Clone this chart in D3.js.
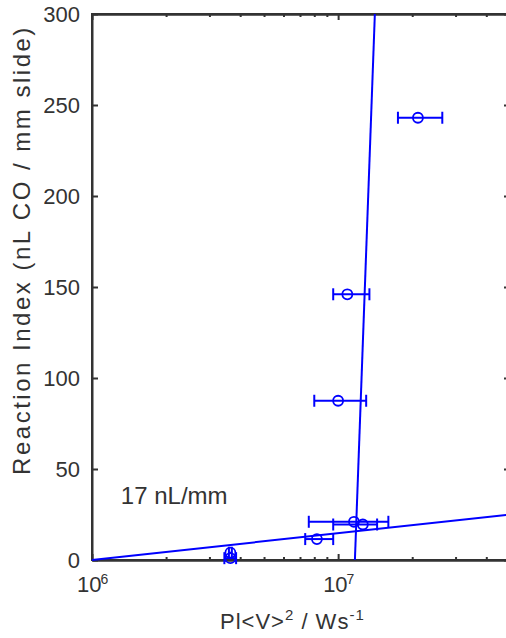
<!DOCTYPE html>
<html>
<head>
<meta charset="utf-8">
<script src="https://cdn.jsdelivr.net/npm/d3@7"></script>
<style>
  body { margin: 0; background: #fff; }
  svg { display: block; font-family: "Liberation Sans", Arial, sans-serif; }
  .axis path, .axis line { stroke: #333; stroke-width: 2; }
  .axis text { fill: #333; font-size: 22px; }
</style>
</head>
<body>
<div id="chart"></div>
<script>
// ************ data ************
const pointX = [3.65e6, 3.65e6, 8.2e6, 1.16e7, 1.26e7, 1.0e7, 1.09e7, 2.11e7]
const pointY = [4, 1, 11.5, 21, 19.5, 87.5, 146, 243]
const errLow = [3.6e6, 3.45e6, 7.35e6, 7.6e6, 9.55e6, 8.0e6, 9.55e6, 1.75e7]
const errHigh = [3.7e6, 3.85e6, 9.55e6, 1.6e7, 1.44e7, 1.3e7, 1.34e7, 2.65e7]

// two fitted lines, end points
const shallowFit = [[1e6, 0], [4.9e7, 24.9]]
const steepFit = [[1.17e7, 0], [1.41e7, 300]]

const yTicks = [0, 50, 100, 150, 200, 250, 300]
const xMajor = [1e6, 1e7]
const xMajorExp = ["6", "7"]
const xMinor = [2e6, 3e6, 4e6, 5e6, 6e6, 7e6, 8e6, 9e6, 2e7, 3e7, 4e7]

// ************ layout ************
const W = 506
const H = 638
const margin = { top: 14, left: 92 }
const plotRight = 508
const plotBottom = 560
const blue = "#0000ff"
const ink = "#333"

const svg = d3.select("#chart")
  .append("svg")
  .attr("width", W)
  .attr("height", H)

const x = d3.scaleLog()
  .domain([1e6, 4.9e7])
  .range([margin.left, plotRight])

const y = d3.scaleLinear()
  .domain([0, 300])
  .range([plotBottom, margin.top])

// frame
svg.append("rect")
  .attr("x", margin.left)
  .attr("y", margin.top)
  .attr("width", plotRight - margin.left)
  .attr("height", plotBottom - margin.top)
  .attr("fill", "none")
  .attr("stroke", ink)
  .attr("stroke-width", 2)

// bottom axis, ticks pointing in
svg.append("g")
  .attr("class", "axis")
  .attr("transform", "translate(0," + plotBottom + ")")
  .call(d3.axisBottom(x).tickValues(xMinor).tickSizeInner(-3).tickSizeOuter(0).tickFormat(""))
svg.append("g")
  .attr("class", "axis")
  .attr("transform", "translate(0," + plotBottom + ")")
  .call(d3.axisBottom(x).tickValues(xMajor).tickSizeInner(-6).tickSizeOuter(0).tickFormat(""))

// top axis
svg.append("g")
  .attr("class", "axis")
  .attr("transform", "translate(0," + margin.top + ")")
  .call(d3.axisTop(x).tickValues(xMinor).tickSizeInner(-3).tickSizeOuter(0).tickFormat(""))
svg.append("g")
  .attr("class", "axis")
  .attr("transform", "translate(0," + margin.top + ")")
  .call(d3.axisTop(x).tickValues(xMajor).tickSizeInner(-6).tickSizeOuter(0).tickFormat(""))

// x tick labels as powers of ten
const xLabels = svg.selectAll(".xlab")
  .data(xMajor)
  .enter()
  .append("text")
  .attr("class", "xlab")
  .attr("x", d => x(d) - 15)
  .attr("y", 592)
  .style("font-size", "22px")
  .style("fill", ink)
xLabels.append("tspan").text("10")
xLabels.append("tspan")
  .attr("dx", -1)
  .attr("dy", -8)
  .style("font-size", "14px")
  .text((d, i) => xMajorExp[i])

// left axis
svg.append("g")
  .attr("class", "axis")
  .attr("transform", "translate(" + margin.left + ",0)")
  .call(d3.axisLeft(y).tickValues(yTicks).tickSizeInner(-6).tickSizeOuter(0).tickPadding(12))

// right axis
svg.append("g")
  .attr("class", "axis")
  .attr("transform", "translate(" + plotRight + ",0)")
  .call(d3.axisRight(y).tickValues(yTicks).tickSizeInner(-4).tickSizeOuter(0).tickFormat(""))

// fitted lines
const line = d3.line()
  .x(d => x(d[0]))
  .y(d => y(d[1]))

svg.selectAll(".fit")
  .data([shallowFit, steepFit])
  .enter()
  .append("path")
  .attr("class", "fit")
  .attr("d", line)
  .attr("fill", "none")
  .attr("stroke", blue)
  .attr("stroke-width", 2)

// error bars
const idx = d3.range(pointX.length)
const bars = svg.selectAll(".err")
  .data(idx)
  .enter()
  .append("g")
  .attr("class", "err")
  .attr("stroke", blue)
  .attr("stroke-width", 2)

bars.append("line")
  .attr("x1", i => x(errLow[i]))
  .attr("x2", i => x(errHigh[i]))
  .attr("y1", i => y(pointY[i]))
  .attr("y2", i => y(pointY[i]))
bars.append("line")
  .attr("x1", i => x(errLow[i]))
  .attr("x2", i => x(errLow[i]))
  .attr("y1", i => y(pointY[i]) - 6)
  .attr("y2", i => y(pointY[i]) + 6)
bars.append("line")
  .attr("x1", i => x(errHigh[i]))
  .attr("x2", i => x(errHigh[i]))
  .attr("y1", i => y(pointY[i]) - 6)
  .attr("y2", i => y(pointY[i]) + 6)

// points
svg.selectAll(".dot")
  .data(idx)
  .enter()
  .append("circle")
  .attr("class", "dot")
  .attr("cx", i => x(pointX[i]))
  .attr("cy", i => y(pointY[i]))
  .attr("r", 5)
  .attr("fill", "none")
  .attr("stroke", blue)
  .attr("stroke-width", 1.8)

// annotation
svg.append("text")
  .attr("x", x(1.31e6))
  .attr("y", y(31))
  .style("font-size", "24px")
  .style("fill", ink)
  .text("17 nL/mm")

// axis titles
svg.append("text")
  .attr("transform", "translate(30,250) rotate(-90)")
  .attr("text-anchor", "middle")
  .style("font-size", "24px")
  .style("letter-spacing", "2.5px")
  .style("fill", ink)
  .text("Reaction Index (nL CO / mm slide)")

const xTitle = svg.append("text")
  .attr("x", 220)
  .attr("y", 629)
  .style("font-size", "22px")
  .style("letter-spacing", "1px")
  .style("fill", ink)
xTitle.append("tspan").text("Pl<V>")
xTitle.append("tspan").attr("dy", -9).style("font-size", "15px").text("2")
xTitle.append("tspan").attr("dy", 9).text(" / Ws")
xTitle.append("tspan").attr("dy", -9).style("font-size", "15px").text("-1")
</script>
</body>
</html>
